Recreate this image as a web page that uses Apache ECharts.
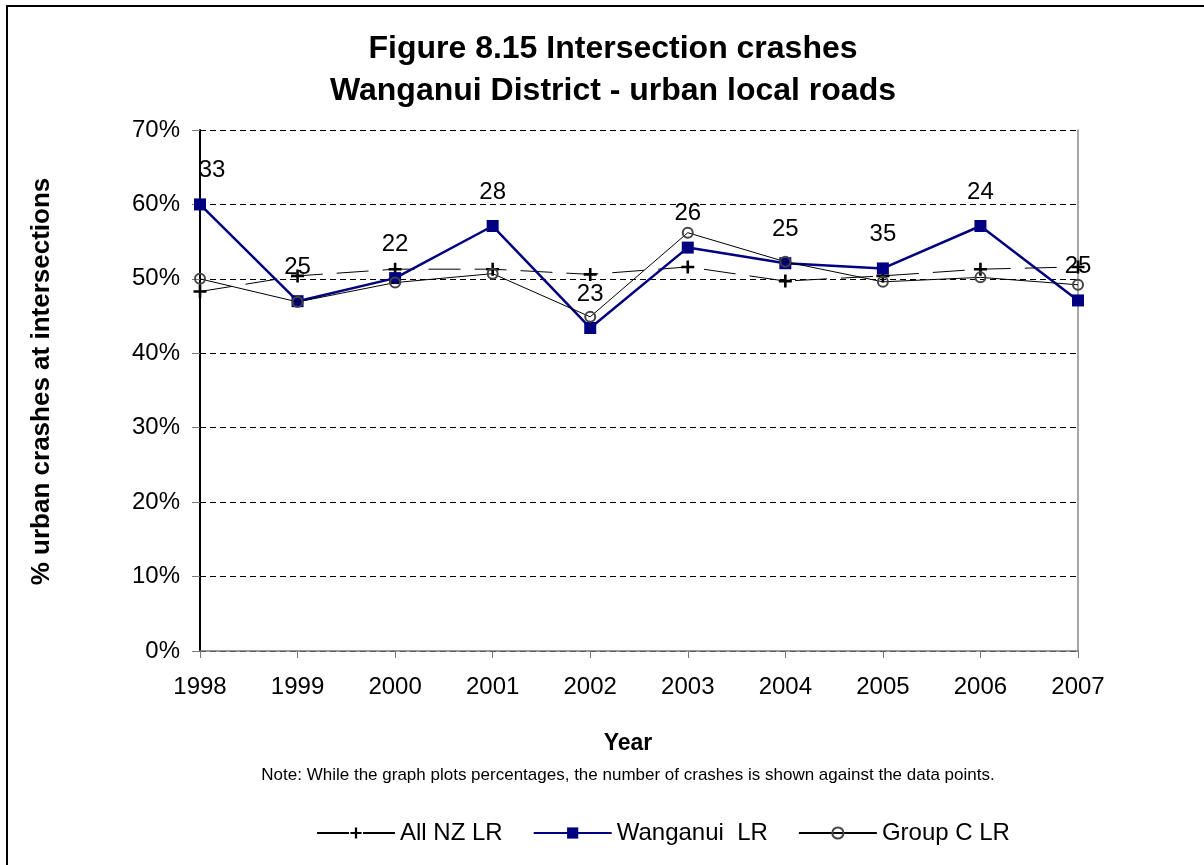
<!DOCTYPE html>
<html>
<head>
<meta charset="utf-8">
<script src="https://cdn.jsdelivr.net/npm/echarts@6/dist/echarts.min.js"></script>
<style>
html,body{margin:0;padding:0;background:#fff;}
#chart{width:1204px;height:865px;}
</style>
</head>
<body>
<div id="chart"></div>
<script>
const years = ['1998','1999','2000','2001','2002','2003','2004','2005','2006','2007'];
const allNZ = [48.3, 50.4, 51.3, 51.3, 50.6, 51.6, 49.7, 50.4, 51.3, 51.6];
const wanganui = [60.0, 47.0, 50.1, 57.1, 43.4, 54.2, 52.1, 51.4, 57.1, 47.1];
const groupC = [50.0, 46.9, 49.5, 50.7, 44.9, 56.2, 52.3, 49.6, 50.2, 49.2];
const crashCounts = [33, 25, 22, 28, 23, 26, 25, 35, 24, 25];
const yTicks = [0, 10, 20, 30, 40, 50, 60, 70];

const FONT = 'Liberation Sans, Arial, sans-serif';
const chart = echarts.init(document.getElementById('chart'), null, {renderer: 'canvas'});

const wanganuiData = wanganui.map((v, i) => {
  const item = {value: v};
  if (i === 0) item.label = {offset: [12, 0]};
  return item;
});

chart.setOption({
  backgroundColor: '#fff',
  animation: false,
  textStyle: {fontFamily: FONT},
  title: {
    text: 'Figure 8.15 Intersection crashes\nWanganui District - urban local roads',
    left: 608,
    textAlign: 'center',
    top: 23,
    textStyle: {fontFamily: FONT, fontSize: 32, fontWeight: 'bold', color: '#000', lineHeight: 42}
  },
  graphic: [
    {type: 'rect', shape: {x: 7, y: 6, width: 1200, height: 870}, style: {fill: 'none', stroke: '#000', lineWidth: 2}, silent: true},
    {type: 'text', x: 628, y: 775, style: {text: 'Note: While the graph plots percentages, the number of crashes is shown against the data points.', fontFamily: FONT, fontSize: 17, fill: '#000', textAlign: 'center', textVerticalAlign: 'middle'}}
  ],
  legend: {
    left: 311,
    top: 816,
    itemWidth: 78,
    itemHeight: 14,
    itemGap: 30,
    textStyle: {fontFamily: FONT, fontSize: 24, color: '#000'},
    data: ['All NZ LR', 'Wanganui  LR', 'Group C LR']
  },
  grid: {left: 200, right: 126, top: 130, bottom: 214},
  xAxis: {
    type: 'category',
    data: years,
    boundaryGap: false,
    name: 'Year',
    nameLocation: 'middle',
    nameGap: 81,
    nameTextStyle: {fontFamily: FONT, fontSize: 23, fontWeight: 'bold', color: '#000', padding: [0, 22, 0, 0]},
    axisLine: {lineStyle: {color: '#777', width: 1.5}},
    axisTick: {show: true, length: 7, lineStyle: {color: '#777'}},
    axisLabel: {fontFamily: FONT, fontSize: 24, color: '#000', margin: 24},
    splitLine: {show: false}
  },
  yAxis: [{
    type: 'value',
    min: 0,
    max: 70,
    interval: 10,
    name: '% urban crashes at intersections',
    nameLocation: 'middle',
    nameGap: 145,
    nameTextStyle: {fontFamily: FONT, fontSize: 26, fontWeight: 'bold', color: '#000', padding: [0, 0, 0, 18]},
    axisLine: {show: true, lineStyle: {color: '#000', width: 2}},
    axisTick: {show: true, length: 8, lineStyle: {color: '#777'}},
    axisLabel: {fontFamily: FONT, fontSize: 24, color: '#000', margin: 20, formatter: v => (yTicks.includes(v) ? v + '%' : '')},
    splitLine: {show: true, lineStyle: {color: '#000', type: [6, 4], width: 1}}
  }, {
    type: 'value',
    min: 0,
    max: 70,
    interval: 10,
    position: 'right',
    axisLine: {show: true, lineStyle: {color: '#888', width: 1.5}},
    axisTick: {show: false},
    axisLabel: {show: false},
    splitLine: {show: false}
  }],
  series: [
    {
      name: 'All NZ LR',
      type: 'line',
      data: allNZ,
      symbol: 'path://M4,0h2v4h4v2h-4v4h-2v-4h-4v-2h4z',
      symbolSize: 13,
      itemStyle: {color: '#000'},
      lineStyle: {color: '#000', width: 1, type: [32, 14]},
      z: 2
    },
    {
      name: 'Wanganui  LR',
      type: 'line',
      data: wanganuiData,
      symbol: 'rect',
      symbolSize: 12,
      itemStyle: {color: '#000080'},
      lineStyle: {color: '#000080', width: 2.5},
      label: {
        show: true,
        position: 'top',
        distance: 16,
        fontFamily: FONT,
        fontSize: 24,
        color: '#000',
        formatter: p => String(crashCounts[p.dataIndex])
      },
      z: 3
    },
    {
      name: 'Group C LR',
      type: 'line',
      data: groupC,
      symbol: 'circle',
      symbolSize: 10,
      showAllSymbol: true,
      itemStyle: {color: 'rgba(0,0,0,0)', borderColor: '#444', borderWidth: 2},
      lineStyle: {color: '#000', width: 1},
      z: 4
    }
  ]
});
</script>
</body>
</html>
